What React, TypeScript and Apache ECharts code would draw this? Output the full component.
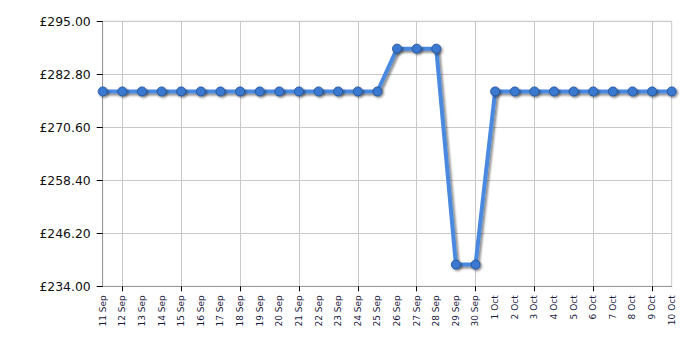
import React, { useEffect, useRef } from "react";
import * as echarts from "echarts";

const dates = [
  "11 Sep", "12 Sep", "13 Sep", "14 Sep", "15 Sep", "16 Sep", "17 Sep", "18 Sep", "19 Sep", "20 Sep",
  "21 Sep", "22 Sep", "23 Sep", "24 Sep", "25 Sep", "26 Sep", "27 Sep", "28 Sep", "29 Sep", "30 Sep",
  "1 Oct", "2 Oct", "3 Oct", "4 Oct", "5 Oct", "6 Oct", "7 Oct", "8 Oct", "9 Oct", "10 Oct",
];
const prices = [
  278.85, 278.85, 278.85, 278.85, 278.85, 278.85, 278.85, 278.85, 278.85, 278.85,
  278.85, 278.85, 278.85, 278.85, 278.85, 288.7, 288.7, 288.7, 239.0, 239.0,
  278.85, 278.85, 278.85, 278.85, 278.85, 278.85, 278.85, 278.85, 278.85, 278.85,
];
const Y_MIN = 234;
const Y_MAX = 295;
const Y_STEP = 12.2;

export default function App() {
  const ref = useRef<HTMLDivElement>(null);
  useEffect(() => {
    if (!ref.current) return;
    const chart = echarts.init(ref.current, null, { renderer: "svg" });
    const font = "DejaVu Sans, Verdana, sans-serif";
    chart.setOption({
      animation: false,
      grid: {
        left: 102.7,
        right: 28.3,
        top: 21.3,
        bottom: 63.7,
        show: true,
        borderColor: "#c8c8c8",
        borderWidth: 1,
      },
      xAxis: {
        type: "category",
        data: dates,
        boundaryGap: false,
        axisLine: { show: true, lineStyle: { color: "#999", width: 1 } },
        axisTick: {
          show: true,
          length: 5,
          interval: (i: number) => i % 3 === 1,
          lineStyle: { color: "#000" },
        },
        splitLine: {
          show: true,
          interval: (i: number) => i % 3 === 1,
          lineStyle: { color: "#c8c8c8", width: 1 },
        },
        axisLabel: {
          rotate: 90,
          interval: 0,
          margin: 9,
          fontSize: 9,
          fontFamily: font,
          color: "#1a1a40",
        },
      },
      yAxis: {
        type: "value",
        min: 0,
        max: Y_MAX - Y_MIN,
        interval: Y_STEP,
        axisLine: { show: true, lineStyle: { color: "#999", width: 1 } },
        axisTick: { show: true, length: 6, lineStyle: { color: "#000" } },
        splitLine: { show: true, lineStyle: { color: "#c8c8c8", width: 1 } },
        axisLabel: {
          margin: 12,
          fontSize: 12.4,
          fontFamily: font,
          color: "#111",
          formatter: (v: number) => "£" + (v + Y_MIN).toFixed(2),
        },
      },
      series: [
        {
          type: "line",
          data: prices.map((p) => p - Y_MIN),
          symbol: "circle",
          symbolSize: 9,
          lineStyle: {
            color: "#4a8ae0",
            width: 4,
            shadowColor: "rgba(0,0,0,0.45)",
            shadowBlur: 2,
            shadowOffsetX: 2,
            shadowOffsetY: 2,
          },
          itemStyle: {
            color: "#3a78d0",
            borderColor: "#24569e",
            borderWidth: 1,
            shadowColor: "rgba(0,0,0,0.45)",
            shadowBlur: 2,
            shadowOffsetX: 1.5,
            shadowOffsetY: 1.5,
          },
        },
      ],
    });
    return () => chart.dispose();
  }, []);
  return (
    <div
      ref={ref}
      style={{ position: "fixed", left: 0, top: 0, width: 700, height: 350, background: "#fff" }}
    />
  );
}
